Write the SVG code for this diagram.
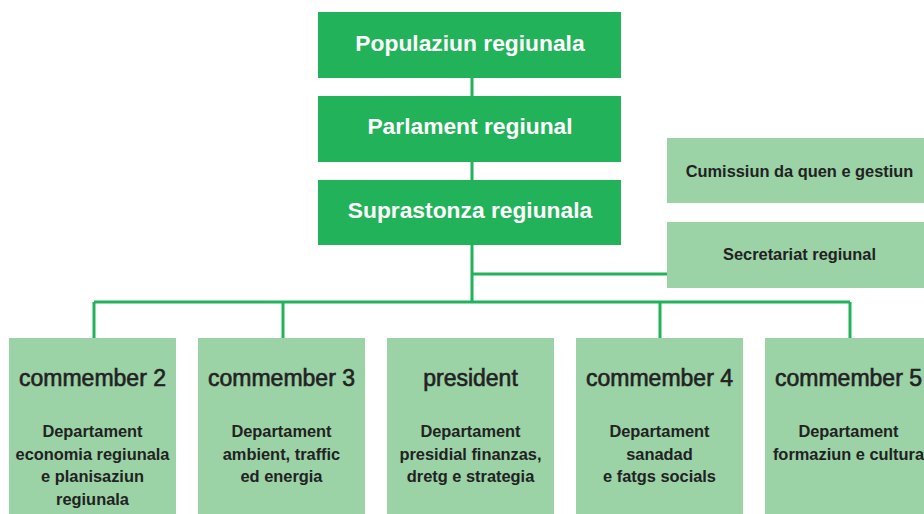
<svg xmlns="http://www.w3.org/2000/svg" width="924" height="514" viewBox="0 0 924 514">
<style>
.dark{fill:#22b35a}
.light{fill:#9bd2a6}
.wt{font-family:"Liberation Sans",Arial,sans-serif;font-weight:bold;font-size:22.8px;fill:#fff;text-anchor:middle}
.side{font-family:"Liberation Sans",Arial,sans-serif;font-weight:bold;font-size:16.4px;fill:#222;text-anchor:middle}
.ttl{font-family:"Liberation Sans",Arial,sans-serif;font-size:23px;fill:#222;text-anchor:middle;stroke:#222;stroke-width:0.6}
.body{font-family:"Liberation Sans",Arial,sans-serif;font-weight:bold;font-size:16.4px;fill:#222;text-anchor:middle}
.conn{stroke:#22b35a;stroke-width:3;fill:none}
</style>
<rect width="924" height="514" fill="#fff"/>
<g id="connectors" class="conn">
<path d="M472 78V96M472 162V180M472 245V302M472 274H667M94 302H850M94 302V338M283 302V338M660 302V338M850 302V338"/>
</g>
<g id="populaziun"><rect class="dark" x="318" y="12" width="303" height="66"/><text class="wt" x="470" y="51">Populaziun regiunala</text></g>
<g id="parlament"><rect class="dark" x="318" y="96" width="303" height="66"/><text class="wt" x="470" y="134">Parlament regiunal</text></g>
<g id="suprastonza"><rect class="dark" x="318" y="180" width="303" height="65"/><text class="wt" x="470" y="218">Suprastonza regiunala</text></g>
<g id="cumissiun"><rect class="light" x="667" y="138" width="270" height="65"/><text class="side" x="799.5" y="177">Cumissiun da quen e gestiun</text></g>
<g id="secretariat"><rect class="light" x="667" y="222" width="270" height="66"/><text class="side" x="799.5" y="260">Secretariat regiunal</text></g>
<g id="commember2"><rect class="light" x="9" y="338" width="167" height="180"/><text class="ttl" x="92.5" y="386">commember 2</text>
<text class="body" x="92.5" y="437">Departament</text><text class="body" x="92.5" y="459.5">economia regiunala</text><text class="body" x="92.5" y="482">e planisaziun</text><text class="body" x="92.5" y="504.5">regiunala</text></g>
<g id="commember3"><rect class="light" x="198" y="338" width="167" height="180"/><text class="ttl" x="281.5" y="386">commember 3</text>
<text class="body" x="281.5" y="437">Departament</text><text class="body" x="281.5" y="459.5">ambient, traffic</text><text class="body" x="281.5" y="482">ed energia</text></g>
<g id="president"><rect class="light" x="387" y="338" width="167" height="180"/><text class="ttl" x="470.5" y="386">president</text>
<text class="body" x="470.5" y="437">Departament</text><text class="body" x="470.5" y="459.5">presidial finanzas,</text><text class="body" x="470.5" y="482">dretg e strategia</text></g>
<g id="commember4"><rect class="light" x="576" y="338" width="167" height="180"/><text class="ttl" x="659.5" y="386">commember 4</text>
<text class="body" x="659.5" y="437">Departament</text><text class="body" x="659.5" y="459.5">sanadad</text><text class="body" x="659.5" y="482">e fatgs socials</text></g>
<g id="commember5"><rect class="light" x="765" y="338" width="167" height="180"/><text class="ttl" x="848.5" y="386">commember 5</text>
<text class="body" x="848.5" y="437">Departament</text><text class="body" x="848.5" y="459.5">formaziun e cultura</text></g>
</svg>
